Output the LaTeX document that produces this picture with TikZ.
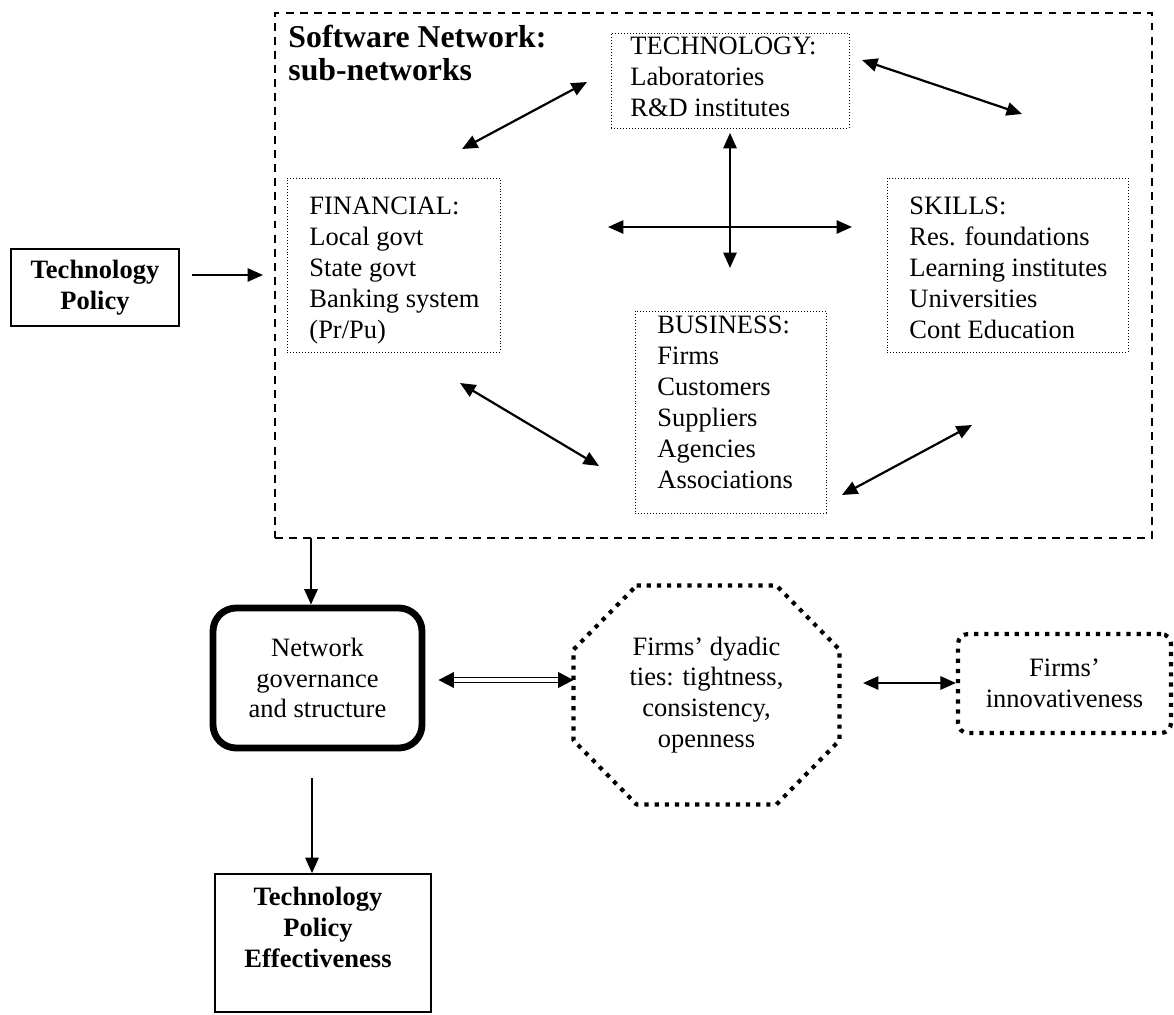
\documentclass[tikz,border=0pt]{standalone}
\usepackage{fontspec}
\setmainfont{Liberation Serif}
\usetikzlibrary{arrows.meta,calc}
\newcommand{\pxl}[1]{#1*0.453pt}
\begin{document}
\begin{tikzpicture}[x=0.453pt,y=-0.453pt,
  body/.style={font={\fontsize{12pt}{14pt}\selectfont}},
  bodyb/.style={font={\bfseries\fontsize{12pt}{14pt}\selectfont}},
  txt/.style={body, inner sep=0pt, align=left},
  subbox/.style={draw, line width=0.45pt, dash pattern=on 0.45pt off 0.9pt, inner sep=0pt},
  outerbox/.style={draw, line width=0.7pt, dash pattern=on 3.6pt off 2.8pt, inner sep=0pt},
  plainbox/.style={draw, line width=0.75pt, inner sep=0pt},
  govbox/.style={draw, line width=3.1pt, rounded corners=10.5pt, inner sep=0pt, body, align=center},
  thickdot/.style={line width=1.9pt, dash pattern=on 1.9pt off 2.7pt},
  innovbox/.style={draw, thickdot, rounded corners=4.5pt, inner sep=0pt, body, align=center},
  arr/.style={line width=1pt, -{Triangle[length=7pt,width=6pt]}},
  darr/.style={line width=1pt, {Triangle[length=7pt,width=6pt]}-{Triangle[length=7pt,width=6pt]}}
]
\useasboundingbox (0,0) rectangle (1174,1015);

% outer dashed network box
\node[outerbox, minimum width=\pxl{877}, minimum height=\pxl{525}] (net) at (713.5,275.5) {};
\node[inner sep=0pt, align=left, anchor=north west,
      font={\bfseries\fontsize{14.4pt}{15pt}\selectfont}] (title) at (288,25) {Software Network:\\sub-networks};

% sub-network boxes
\node[subbox, minimum width=\pxl{238}, minimum height=\pxl{95}] (tech) at (730,80.5) {};
\node[txt, anchor=north west] (techtxt) at (630,37) {TECHNOLOGY:\\Laboratories\\R\&D institutes};

\node[subbox, minimum width=\pxl{213}, minimum height=\pxl{174}] (fin) at (393.5,265) {};
\node[txt, anchor=north west] (fintxt) at (309,197) {FINANCIAL:\\Local govt\\State govt\\Banking system\\(Pr/Pu)};

\node[subbox, minimum width=\pxl{241}, minimum height=\pxl{174}] (skills) at (1007.5,265) {};
\node[txt, anchor=north west] (skillstxt) at (909,197) {SKILLS:\\Res. foundations\\Learning institutes\\Universities\\Cont Education};

\node[subbox, minimum width=\pxl{191}, minimum height=\pxl{202}] (bus) at (730.5,412) {};
\node[txt, anchor=north west] (bustxt) at (657,316) {BUSINESS:\\Firms\\Customers\\Suppliers\\Agencies\\Associations};

% arrows inside the network
\coordinate (ft1) at (462,149); \coordinate (ft2) at (587,82);
\draw[darr] (ft1) -- (ft2);
\coordinate (ts1) at (862,60); \coordinate (ts2) at (1022,114);
\draw[darr] (ts1) -- (ts2);
\coordinate (hl) at (608,227); \coordinate (hr) at (852,227);
\draw[darr] (hl) -- (hr);
\coordinate (vb) at (730,268);
\draw[darr] ([yshift=-2]tech.south) -- (vb);
\coordinate (fb1) at (460,383); \coordinate (fb2) at (599,466);
\draw[darr] (fb1) -- (fb2);
\coordinate (bs1) at (842,495); \coordinate (bs2) at (972,425);
\draw[darr] (bs1) -- (bs2);

% technology policy
\node[plainbox, minimum width=\pxl{168}, minimum height=\pxl{77}, bodyb, align=center] (tp) at (95,287.5) {Technology\\Policy};
\coordinate (tpa) at (192,275);
\coordinate (tpb) at (263,275);
\draw[arr] (tpa) -- (tpb);

% governance
\node[govbox, minimum width=\pxl{209}, minimum height=\pxl{140}] (gov) at (317.5,678) {Network\\governance\\and structure};
\coordinate (netout) at (311,538);
\draw[arr] (netout) -- (netout |- gov.north);

% octagon
\node[inner sep=0pt, minimum width=\pxl{265}, minimum height=\pxl{218}, body, align=center] (oct) at (706.5,695) {Firms' dyadic\\ties: tightness,\\consistency,\\openness};
\draw[thickdot, line join=round]
  ($(oct.north west)+(63,0)$) -- ($(oct.north east)+(-63,0)$) -- ($(oct.north east)+(0,64)$)
  -- ($(oct.south east)+(0,-64)$) -- ($(oct.south east)+(-63,0)$) -- ($(oct.south west)+(63,0)$)
  -- ($(oct.south west)+(0,-64)$) -- ($(oct.north west)+(0,64)$) -- cycle;

% double arrow governance <-> octagon
\coordinate (ga) at ($(gov.east)+(13,2)$);
\coordinate (gb) at ($(oct.west)+(0,-15)$);
\draw[line width=0.55pt, double distance=1.6pt, shorten <=5pt, shorten >=5pt] (ga) -- (ga -| gb);
\draw[line width=1pt, -{Triangle[length=7pt,width=7pt]}] ($(ga)+(3,0)$) -- (ga);
\draw[line width=1pt, -{Triangle[length=7pt,width=7pt]}] ($(ga -| gb)+(-3,0)$) -- (ga -| gb);

% innovativeness
\node[innovbox, minimum width=\pxl{213}, minimum height=\pxl{99}] (innov) at (1064.5,683.5) {Firms'\\innovativeness};
\coordinate (oi) at (863,683);
\draw[darr] (oi) -- (oi -| innov.west);

% effectiveness
\node[plainbox, minimum width=\pxl{216}, minimum height=\pxl{138}] (tpe) at (323,943) {};
\node[inner sep=0pt, bodyb, align=center, anchor=north] (tpetxt) at (318,887) {Technology\\Policy\\Effectiveness};
\coordinate (gd) at (312,778);
\draw[arr] (gd) -- (gd |- tpe.north);
\end{tikzpicture}
\end{document}
